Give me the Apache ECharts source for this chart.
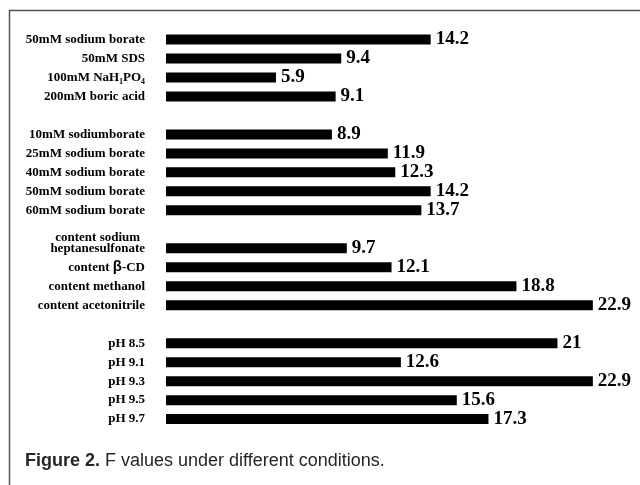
<!DOCTYPE html>
<html>
<head>
<meta charset="utf-8">
<script src="https://cdn.jsdelivr.net/npm/echarts@6/dist/echarts.min.js"></script>
<style>html,body{margin:0;padding:0;background:#fff;}#c{width:640px;height:485px;}</style>
</head>
<body>
<div id="c"></div>
<script>
// Categories (blank entries are spacer rows between groups)
var categories = [
  '50mM sodium borate', '50mM SDS', '100mM NaH\u2081PO\u2084', '200mM boric acid',
  ' ',
  '10mM sodiumborate', '25mM sodium borate', '40mM sodium borate', '50mM sodium borate ', '60mM sodium borate',
  '  ',
  'content sodium heptanesulfonate', 'content \u03b2-CD', 'content methanol', 'content acetonitrile',
  '   ',
  'pH 8.5', 'pH 9.1', 'pH 9.3', 'pH 9.5', 'pH 9.7'
];
var fValues = [
  14.2, 9.4, 5.9, 9.1,
  null,
  8.9, 11.9, 12.3, 14.2, 13.7,
  null,
  9.7, 12.1, 18.8, 22.9,
  null,
  21, 12.6, 22.9, 15.6, 17.3
];
var captionBold = 'Figure 2.';
var captionText = ' F values under different conditions.';

var serif = '"Liberation Serif", "Times New Roman", serif';
var chart = echarts.init(document.getElementById('c'), null, {renderer: 'canvas'});
chart.setOption({
  animation: false,
  backgroundColor: '#fff',
  grid: {left: 166, right: 8, top: 30, bottom: 56.4, containLabel: false},
  xAxis: {type: 'value', min: 0, max: 25, show: false},
  yAxis: {
    type: 'category',
    inverse: true,
    data: categories,
    axisLine: {show: false},
    axisTick: {show: false},
    splitLine: {show: false},
    axisLabel: {
      interval: 0,
      margin: 21,
      color: '#000',
      fontFamily: serif,
      fontWeight: 'bold',
      fontSize: 13,
      formatter: function (v) {
        v = v.trim();
        if (v === 'content sodium heptanesulfonate') {
          return '{c|content sodium}\n{c|heptanesulfonate}\n{c| }';
        }
        if (v === 'content \u03b2-CD') {
          return 'content {b|\u03b2}-CD';
        }
        return v;
      },
      rich: {
        c: {align: 'center', fontFamily: serif, fontWeight: 'bold', fontSize: 13, color: '#000', lineHeight: 11},
        b: {fontFamily: '"Liberation Sans", Arial, sans-serif', fontWeight: 'bold', fontSize: 15, color: '#000'}
      }
    }
  },
  series: [{
    type: 'bar',
    data: fValues,
    barWidth: 10,
    itemStyle: {color: '#000'},
    label: {
      show: true,
      position: 'right',
      distance: 5,
      color: '#000',
      fontFamily: serif,
      fontWeight: 'bold',
      fontSize: 19
    }
  }],
  graphic: [
    {
      type: 'rect',
      silent: true,
      shape: {x: 9.5, y: 10.5, width: 800, height: 600},
      style: {fill: 'none', stroke: '#555', lineWidth: 1.5}
    },
    {
      type: 'text',
      left: 25,
      top: 452,
      style: {
        text: '{b|' + captionBold + '}{r|' + captionText + '}',
        rich: {
          b: {fontFamily: '"Liberation Sans Narrow", "Liberation Sans", sans-serif', fontWeight: 'bold', fontSize: 18, fill: '#262626'},
          r: {fontFamily: '"Liberation Sans Narrow", "Liberation Sans", sans-serif', fontWeight: 'normal', fontSize: 18, fill: '#262626'}
        }
      }
    }
  ]
});
</script>
</body>
</html>
